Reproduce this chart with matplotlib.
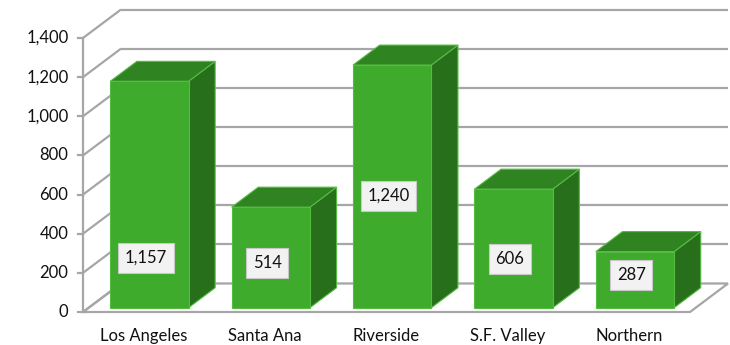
import matplotlib
matplotlib.use("Agg")
import matplotlib.pyplot as plt
from matplotlib.patches import Polygon

plt.rcParams['font.family'] = ['Lato', 'DejaVu Sans']

# data
regions = ["Los Angeles", "Santa Ana", "Riverside", "S.F. Valley", "Northern"]
counts = [1157, 514, 1240, 606, 287]
value_text = ["1,157", "514", "1,240", "606", "287"]
yticks = [0, 200, 400, 600, 800, 1000, 1200, 1400]
ytick_text = ["0", "200", "400", "600", "800", "1,000", "1,200", "1,400"]

# where the data label boxes sit (value units)
label_y = [276, 250, 593, 271, 189]

fig = plt.figure(figsize=(7.3, 3.45), dpi=100)
W, H = 730, 345
ax = fig.add_axes([83 / W, (H - 312) / H, 607 / W, 274 / H])
ax.set_xlim(-0.5, 4.5)
ax.set_ylim(0, 1400)
ax.axis('off')

# depth of the 3d box in data units
DX = 38 / 121.4
DY = 28.5 / (274 / 1400)
ymax = 1400
x0, x1 = -0.5, 4.5

grid_c = '#a6a6a6'
lw = 1.6

# floor
floor = Polygon([(x0, 0), (x1, 0), (x1 + DX, DY), (x0 + DX, DY)],
                closed=True, fc='white', ec=grid_c, lw=lw, clip_on=False, zorder=1)
ax.add_patch(floor)

# back wall gridlines + left wall diagonals
for t in yticks:
    ax.plot([x0 + DX, x1 + DX], [t + DY, t + DY], color=grid_c, lw=lw,
            clip_on=False, zorder=0.5, solid_capstyle='butt')
    ax.plot([x0, x0 + DX], [t, t + DY], color=grid_c, lw=lw,
            clip_on=False, zorder=1.2, solid_capstyle='butt')
ax.plot([x0, x0], [0, ymax], color=grid_c, lw=lw, clip_on=False, zorder=1.2)

# ticks and tick labels
for t, s in zip(yticks, ytick_text):
    ax.plot([x0 - 0.04, x0], [t, t], color=grid_c, lw=lw, clip_on=False, zorder=1.2)
    ax.text(x0 - 0.12, t, s, ha='right', va='center', fontsize=12, color='#111111')

# bars
bw = 0.645
f0, f1 = 0.15, 0.85
front_c = '#3eab2c'
top_c = '#2f8421'
side_c = '#286f1c'
edge_c = '#55bb42'

for i, (v, lab, ly) in enumerate(zip(counts, value_text, label_y)):
    xl = i - bw / 2 + f0 * DX
    xr = i + bw / 2 + f0 * DX
    yb = f0 * DY
    ddx = (f1 - f0) * DX
    ddy = (f1 - f0) * DY
    side = Polygon([(xr, yb), (xr + ddx, yb + ddy), (xr + ddx, v + yb + ddy), (xr, v + yb)],
                   closed=True, fc=side_c, ec=edge_c, lw=0.8, clip_on=False, zorder=2)
    top = Polygon([(xl, v + yb), (xr, v + yb), (xr + ddx, v + yb + ddy), (xl + ddx, v + yb + ddy)],
                  closed=True, fc=top_c, ec=edge_c, lw=0.8, clip_on=False, zorder=2)
    front = Polygon([(xl, yb), (xr, yb), (xr, v + yb), (xl, v + yb)],
                    closed=True, fc=front_c, ec=edge_c, lw=0.8, clip_on=False, zorder=3)
    ax.add_patch(side)
    ax.add_patch(top)
    ax.add_patch(front)
    ax.text((xl + xr) / 2 - 0.03, ly, lab, ha='center', va='center', fontsize=12,
            color='#111111', zorder=5,
            bbox=dict(boxstyle='square,pad=0.4', fc='#f2f2f2', ec='#c8c8c8', lw=0.8))
    ax.text(i, -125, regions[i], ha='center', va='center', fontsize=12, color='#111111')

fig.savefig('out.png', dpi=100)
